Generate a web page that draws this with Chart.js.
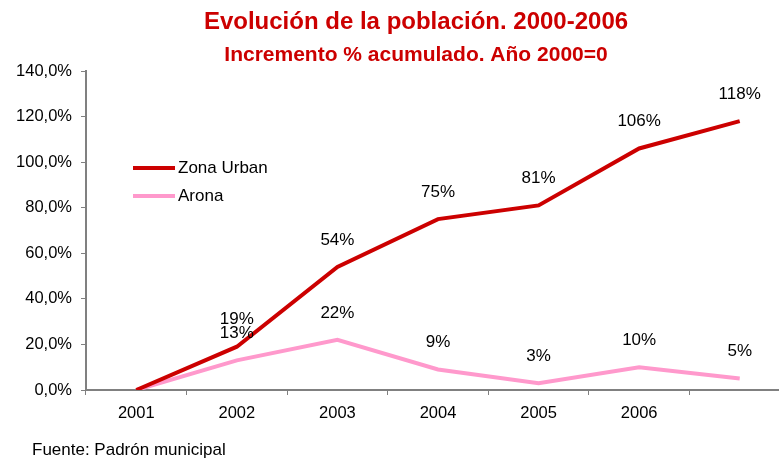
<!DOCTYPE html>
<html>
<head>
<meta charset="utf-8">
<script src="https://cdn.jsdelivr.net/npm/chart.js@4"></script>
<style>
  body { margin: 0; background: #fff; }
  #wrap { width: 779px; height: 459px; overflow: hidden; position: relative; }
  canvas { display: block; }
</style>
</head>
<body>
<div id="wrap"><canvas id="chart" width="800" height="459"></canvas></div>
<script>
// Data
const years = ["2001", "2002", "2003", "2004", "2005", "2006", ""];
const zonaUrban = [0, 19, 54, 75, 81, 106, 118];
const arona = [0, 13, 22, 9, 3, 10, 5];
const seriesNames = ["Zona Urban", "Arona"];
const yTicks = [0, 20, 40, 60, 80, 100, 120, 140];

const titleText = "Evolución de la población. 2000-2006";
const subtitleText = "Incremento % acumulado. Año 2000=0";
const sourceText = "Fuente: Padrón municipal";

const RED = "#CC0000";
const PINK = "#FF99CC";
const FONT = "Arial, 'Liberation Sans', sans-serif";

// titles, legend, value labels and source note
const decorations = {
  id: "decorations",
  afterDraw(chart) {
    const ctx = chart.ctx;
    ctx.save();

    // titles
    ctx.fillStyle = RED;
    ctx.textAlign = "center";
    ctx.textBaseline = "alphabetic";
    ctx.font = "bold 24px " + FONT;
    ctx.fillText(titleText, 416, 29);
    ctx.font = "bold 21px " + FONT;
    ctx.fillText(subtitleText, 416, 61);

    // value labels above each point
    ctx.fillStyle = "#000";
    ctx.font = "17px " + FONT;
    ctx.textBaseline = "middle";
    chart.data.datasets.forEach((ds, di) => {
      const meta = chart.getDatasetMeta(di);
      meta.data.forEach((pt, i) => {
        if (i === 0) return;
        ctx.fillText(ds.data[i] + "%", pt.x, pt.y - 27);
      });
    });

    // legend inside the plot
    const legendY = [168, 196];
    chart.data.datasets.forEach((ds, di) => {
      ctx.strokeStyle = ds.borderColor;
      ctx.lineWidth = 4;
      ctx.beginPath();
      ctx.moveTo(133, legendY[di]);
      ctx.lineTo(175, legendY[di]);
      ctx.stroke();
      ctx.fillStyle = "#000";
      ctx.textAlign = "left";
      ctx.font = "17px " + FONT;
      ctx.fillText(ds.label, 178, legendY[di]);
    });

    // source
    ctx.textBaseline = "alphabetic";
    ctx.fillText(sourceText, 32, 455);

    ctx.restore();
  }
};

const ctx = document.getElementById("chart").getContext("2d");
new Chart(ctx, {
  type: "line",
  data: {
    labels: years,
    datasets: [
      {
        label: seriesNames[0],
        data: zonaUrban,
        borderColor: RED,
        backgroundColor: RED,
        borderWidth: 4,
        pointRadius: 0,
        tension: 0
      },
      {
        label: seriesNames[1],
        data: arona,
        borderColor: PINK,
        backgroundColor: PINK,
        borderWidth: 4,
        pointRadius: 0,
        tension: 0
      }
    ]
  },
  options: {
    responsive: false,
    animation: false,
    layout: { padding: { top: 71, right: 10, left: 0, bottom: 0 } },
    plugins: {
      legend: { display: false },
      title: { display: false },
      tooltip: { enabled: false }
    },
    scales: {
      x: {
        offset: true,
        grid: {
          offset: true,
          drawOnChartArea: false,
          drawTicks: true,
          tickLength: 5,
          color: "#808080"
        },
        border: { display: true, color: "#808080", width: 2 },
        ticks: {
          color: "#000",
          padding: 9,
          maxRotation: 0,
          autoSkip: false,
          font: { family: FONT, size: 16.5 }
        },
        afterFit(scale) { scale.height = 69; }
      },
      y: {
        min: yTicks[0],
        max: yTicks[yTicks.length - 1],
        afterBuildTicks(scale) { scale.ticks = yTicks.map(v => ({ value: v })); },
        grid: {
          drawOnChartArea: false,
          drawTicks: true,
          tickLength: 5,
          color: "#808080"
        },
        border: { display: true, color: "#808080", width: 2 },
        ticks: {
          color: "#000",
          padding: 9,
          font: { family: FONT, size: 16.5 },
          callback: v => v.toFixed(1).replace(".", ",") + "%"
        },
        afterFit(scale) { scale.width = 86; }
      }
    }
  },
  plugins: [decorations]
});
</script>
</body>
</html>
